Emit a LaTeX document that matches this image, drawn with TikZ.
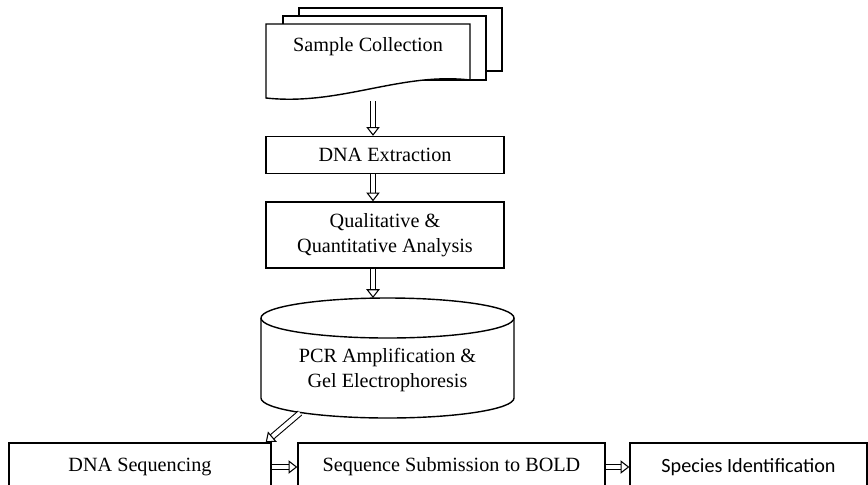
\documentclass[tikz,border=0pt]{standalone}
\usepackage{fontspec}
\setmainfont{Liberation Serif}
\newfontfamily\calibri{Carlito}
\usetikzlibrary{calc,positioning,arrows.meta}
\tikzset{>={Triangle[open,width=7.6pt,length=5pt,line width=0.6pt]}}
\tikzset{box/.style = {draw, fill=white, rectangle, line width=0.8pt,
                  inner sep=2pt, align=center},
        lbl/.style = {align=center, inner sep=0pt},
        dbl/.style = {draw, double, double distance=2.4pt, line width=0.6pt, ->}
    }

\begin{document}
\begin{tikzpicture}[x=0.02cm, y=-0.02cm,
    every node/.append style={font=\fontsize{11.5}{14}\selectfont}]
    \useasboundingbox (0,0) rectangle (868,484);

    % stacked documents
    \draw[line width=0.8pt, fill=white] (299,8) rectangle (502,71);
    \draw[line width=0.8pt, fill=white] (283,16) rectangle (486,80);
    \draw[line width=0.8pt, fill=white] (266,24) -- (470,24) -- (470,80)
        .. controls (400,72) and (340,106) .. (266,98) -- cycle;
    \node[lbl] (coll) at (368,47) {Sample Collection};
    \coordinate (collbot) at (373,101);

    \node[box, minimum width=4.76cm, minimum height=0.74cm] (extr) at (385,155) {DNA Extraction};
    \node[box, minimum width=4.76cm, minimum height=1.32cm] (qual) at (385,235) {Qualitative \&\\ Quantitative Analysis};

    % cylinder
    \draw[line width=0.8pt, fill=white] (261,318) -- (261,398)
        arc[start angle=180, end angle=0, x radius=126.5, y radius=20] -- (514,318);
    \draw[line width=0.8pt] (387.5,318) ellipse [x radius=126.5, y radius=20];
    \node[lbl] (pcr) at (387.5,370) {PCR Amplification \&\\ Gel Electrophoresis};
    \coordinate (pcrtop) at (373,298);
    \coordinate (pcrbot) at (300,413);

    \node[box, minimum width=5.24cm, minimum height=0.96cm] (seq) at (140,467) {DNA Sequencing};
    \node[box, minimum width=6.14cm, minimum height=0.96cm] (sub) at (451.5,467) {Sequence Submission to BOLD};
    \node[box, minimum width=4.74cm, minimum height=0.96cm, font=\calibri\fontsize{11.5}{14}\selectfont] (spec) at (748.5,467) {Species Identification};

    \draw[dbl] (collbot) -- ($(extr.north)+(-12,0)$);
    \draw[dbl] ($(extr.south)+(-12,0)$) -- ($(qual.north)+(-12,0)$);
    \draw[dbl] ($(qual.south)+(-12,0)$) -- (pcrtop);
    \draw[dbl] (pcrbot) -- ($(seq.north east)+(-6,0)$);
    \draw[dbl] (seq.east) -- (sub.west);
    \draw[dbl] (sub.east) -- (spec.west);
\end{tikzpicture}
\end{document}
